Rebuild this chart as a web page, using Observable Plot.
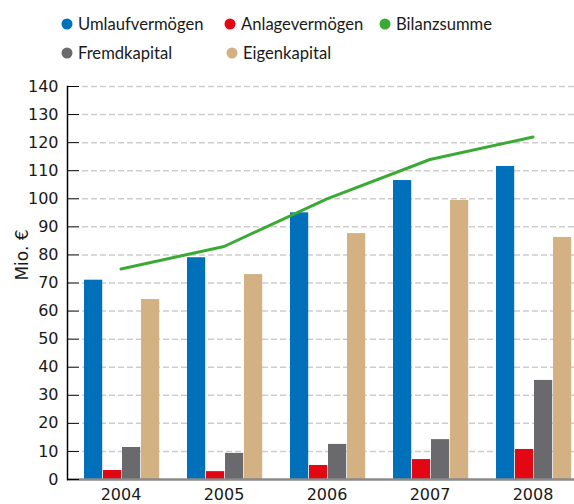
<!DOCTYPE html>
<html><head><meta charset="utf-8">
<script src="https://cdn.jsdelivr.net/npm/d3@7"></script>
<script src="https://cdn.jsdelivr.net/npm/@observablehq/plot@0.6"></script>
<style>
body{margin:0;background:#fff;width:574px;height:504px;overflow:hidden;position:relative;font-family:"DejaVu Sans",sans-serif}
#legend{position:relative;height:70px}
.item{position:absolute;font-family:Lato,"Open Sans",sans-serif;font-size:16.6px;color:#1a1a1a;white-space:nowrap;line-height:20px;transform:translateY(-50%)}
.dot{position:absolute;width:11px;height:11px;border-radius:50%;transform:translate(-50%,-50%)}
#ylabel{position:absolute;left:22px;top:255px;transform:translate(-50%,-50%) rotate(-90deg);font-size:17px;color:#1a1a1a;white-space:nowrap}
</style></head>
<body>
<div id="legend"></div>
<div id="chart"></div>
<div id="ylabel">Mio. €</div>
<script>
const years = ["2004","2005","2006","2007","2008"];
const umlauf = [71, 79, 95, 106.5, 111.5];
const anlage = [3.2, 2.8, 5, 7.1, 10.7];
const fremd = [11.4, 9.3, 12.5, 14.2, 35.3];
const eigen = [64.1, 73, 87.6, 99.4, 86.2];
const bilanz = [75, 83, 100, 114, 122];
const seriesNames = ["Umlaufvermögen","Anlagevermögen","Bilanzsumme","Fremdkapital","Eigenkapital"];
const colors = ["#0070ba","#e30613","#3aaa35","#6a696e","#d3b183"];
const yTicks = d3.range(0, 150, 10);

// legend
const legendPos = [[67,24],[230,24],[385,24],[67,53],[232,53]];
const leg = document.getElementById("legend");
seriesNames.forEach((n,i)=>{
  const [x,y] = legendPos[i];
  const d = document.createElement("div"); d.className="dot";
  d.style.left=x+"px"; d.style.top=y+"px"; d.style.background=colors[i];
  const t = document.createElement("div"); t.className="item";
  t.style.left=(x+11)+"px"; t.style.top=y+"px"; t.textContent=n;
  leg.appendChild(d); leg.appendChild(t);
});

const mk = (vals) => years.map((y,i)=>({year:y, value:vals[i]}));
const x0 = 67, x1 = 586;
const bw = (x1 - x0) / years.length;
const edges = [15, 34, 53, 72, 91];
const barSeries = [[umlauf, colors[0]], [anlage, colors[1]], [fremd, colors[3]], [eigen, colors[4]]];

const chart = Plot.plot({
  width: 574, height: 434,
  marginTop: 16, marginBottom: 25, marginLeft: 67, marginRight: 0,
  style: {fontFamily: "DejaVu Sans", fontSize: "16px", color: "#1a1a1a", background: "#fff"},
  x: {type: "band", domain: years, range: [x0, x1], padding: 0},
  y: {domain: [0, 140], ticks: yTicks},
  marks: [
    Plot.gridY(d3.range(10, 150, 10), {stroke: "#cdcdcd", strokeOpacity: 1, strokeWidth: 1.5, strokeDasharray: "6,3", insetLeft: 15}),
    ...barSeries.map(([vals, c], k) => Plot.barY(mk(vals), {x: "year", y: "value", fill: c, insetLeft: edges[k], insetRight: bw - edges[k+1]})),
    Plot.ruleY([0], {stroke: "#8a8a8a", strokeWidth: 2.5}),
    Plot.lineY(mk(bilanz), {x: "year", y: "value", stroke: colors[2], strokeWidth: 3}),
    Plot.frame({anchor: "left", stroke: "#000", strokeWidth: 1.5}),
    Plot.axisY({ticks: yTicks, tickSize: -12, tickPadding: 21, stroke: "#000", fontSize: 16, label: null}),
    Plot.axisX({tickSize: 0, tickPadding: 9, fontSize: 16, label: null})
  ]
});
document.getElementById("chart").appendChild(chart);
</script>
</body></html>
